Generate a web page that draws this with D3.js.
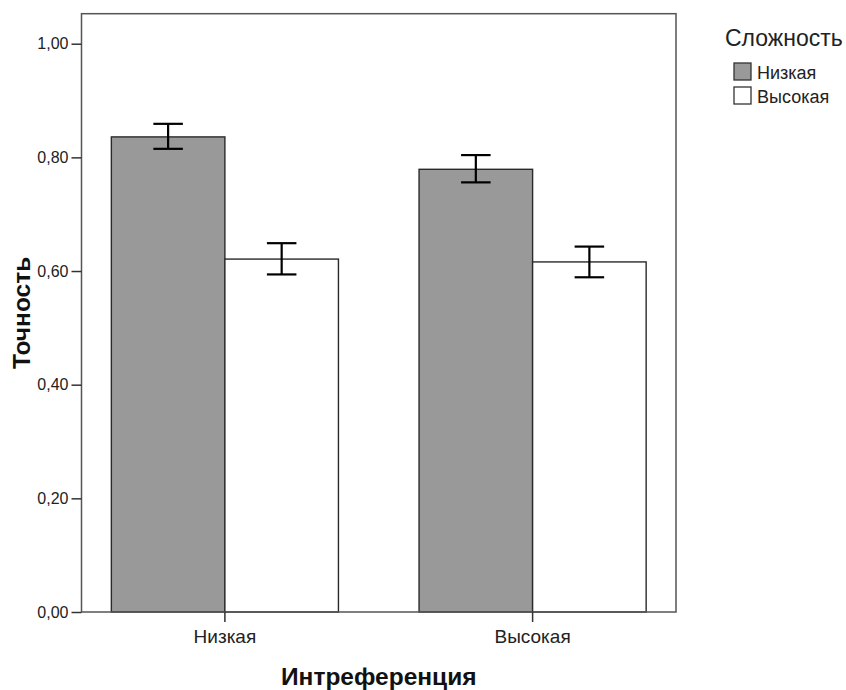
<!DOCTYPE html>
<html><head><meta charset="utf-8">
<script src="https://cdn.jsdelivr.net/npm/d3@7"></script>
<style>body{margin:0;background:#fff}svg{display:block}</style>
</head><body>
<script>
const categories = ["Низкая", "Высокая"];          // Интреференция
const seriesNames = ["Низкая", "Высокая"];         // Сложность
const lowValues  = [0.836, 0.779];
const lowErrLo   = [0.815, 0.756];
const lowErrHi   = [0.859, 0.804];
const highValues = [0.621, 0.616];
const highErrLo  = [0.594, 0.589];
const highErrHi  = [0.649, 0.643];
const yTicks = [0, 0.2, 0.4, 0.6, 0.8, 1.0];
const seriesFill = ["#999999", "#ffffff"];

(function () {
const W = 846, H = 690;
const svg = d3.select("body").append("svg").attr("width", W).attr("height", H);
const font = "'Liberation Sans', Arial, sans-serif";

const pL = 81.5, pR = 676, pT = 13.7, pB = 612;
const x = d3.scaleBand().domain(categories).range([pL, pR]).paddingInner(0.262).paddingOuter(0.097);
const xs = d3.scaleBand().domain(seriesNames).range([0, x.bandwidth()]);
const y = d3.scaleLinear().domain([0, 1.0528]).range([pB, pT]);

const series = [
  {name: seriesNames[0], vals: lowValues, lo: lowErrLo, hi: lowErrHi, fill: seriesFill[0]},
  {name: seriesNames[1], vals: highValues, lo: highErrLo, hi: highErrHi, fill: seriesFill[1]}
];

series.forEach(s => {
  categories.forEach((c, i) => {
    svg.append("rect")
      .attr("x", x(c) + xs(s.name))
      .attr("y", y(s.vals[i]))
      .attr("width", xs.bandwidth())
      .attr("height", y(0) - y(s.vals[i]))
      .attr("fill", s.fill)
      .attr("stroke", "#2a2a2a")
      .attr("stroke-width", 1.4);
  });
});

series.forEach(s => {
  categories.forEach((c, i) => {
    const cx = x(c) + xs(s.name) + xs.bandwidth() / 2;
    const hw = xs.bandwidth() * 0.13;
    const g = svg.append("g").attr("stroke", "#000").attr("stroke-width", 2.2);
    g.append("line").attr("x1", cx).attr("x2", cx).attr("y1", y(s.lo[i])).attr("y2", y(s.hi[i]));
    g.append("line").attr("x1", cx - hw).attr("x2", cx + hw).attr("y1", y(s.lo[i])).attr("y2", y(s.lo[i]));
    g.append("line").attr("x1", cx - hw).attr("x2", cx + hw).attr("y1", y(s.hi[i])).attr("y2", y(s.hi[i]));
  });
});

svg.append("rect").attr("x", pL).attr("y", pT).attr("width", pR - pL).attr("height", pB - pT)
  .attr("fill", "none").attr("stroke", "#555").attr("stroke-width", 1.5);

const yAxis = d3.axisLeft(y).tickValues(yTicks).tickSize(10).tickPadding(3)
  .tickFormat(d => d3.format(".2f")(d).replace(".", ","));
const ga = svg.append("g").attr("transform", `translate(${pL},0)`).call(yAxis);
ga.select(".domain").remove();
ga.selectAll(".tick line").attr("stroke", "#333").attr("stroke-width", 1.5);
ga.selectAll(".tick text").attr("font-family", font).attr("font-size", 16).attr("fill", "#222");

const xAxis = d3.axisBottom(x).tickSize(10).tickPadding(8);
const gx = svg.append("g").attr("transform", `translate(0,${pB})`).call(xAxis);
gx.select(".domain").remove();
gx.selectAll(".tick line").attr("stroke", "#333").attr("stroke-width", 1.5);
gx.selectAll(".tick text").attr("font-family", font).attr("font-size", 19).attr("fill", "#222");

svg.append("text").attr("x", (pL + pR) / 2).attr("y", 685).attr("text-anchor", "middle")
  .attr("font-family", font).attr("font-weight", "bold").attr("font-size", 24.5).attr("fill", "#111")
  .text("Интреференция");
svg.append("text").attr("transform", `translate(30,${(pT + pB) / 2}) rotate(-90)`).attr("text-anchor", "middle")
  .attr("font-family", font).attr("font-weight", "bold").attr("font-size", 24.5).attr("fill", "#111")
  .text("Точность");

svg.append("text").attr("x", 725).attr("y", 46).attr("font-family", font).attr("font-size", 23).attr("fill", "#222")
  .text("Сложность");
series.forEach((s, i) => {
  const yy = 63 + i * 24;
  svg.append("rect").attr("x", 734).attr("y", yy).attr("width", 17).attr("height", 17)
    .attr("fill", s.fill).attr("stroke", "#333").attr("stroke-width", 1.3);
  svg.append("text").attr("x", 757).attr("y", yy + 16).attr("font-family", font).attr("font-size", 18).attr("fill", "#222")
    .text(s.name);
});
})();
</script>
</body></html>
